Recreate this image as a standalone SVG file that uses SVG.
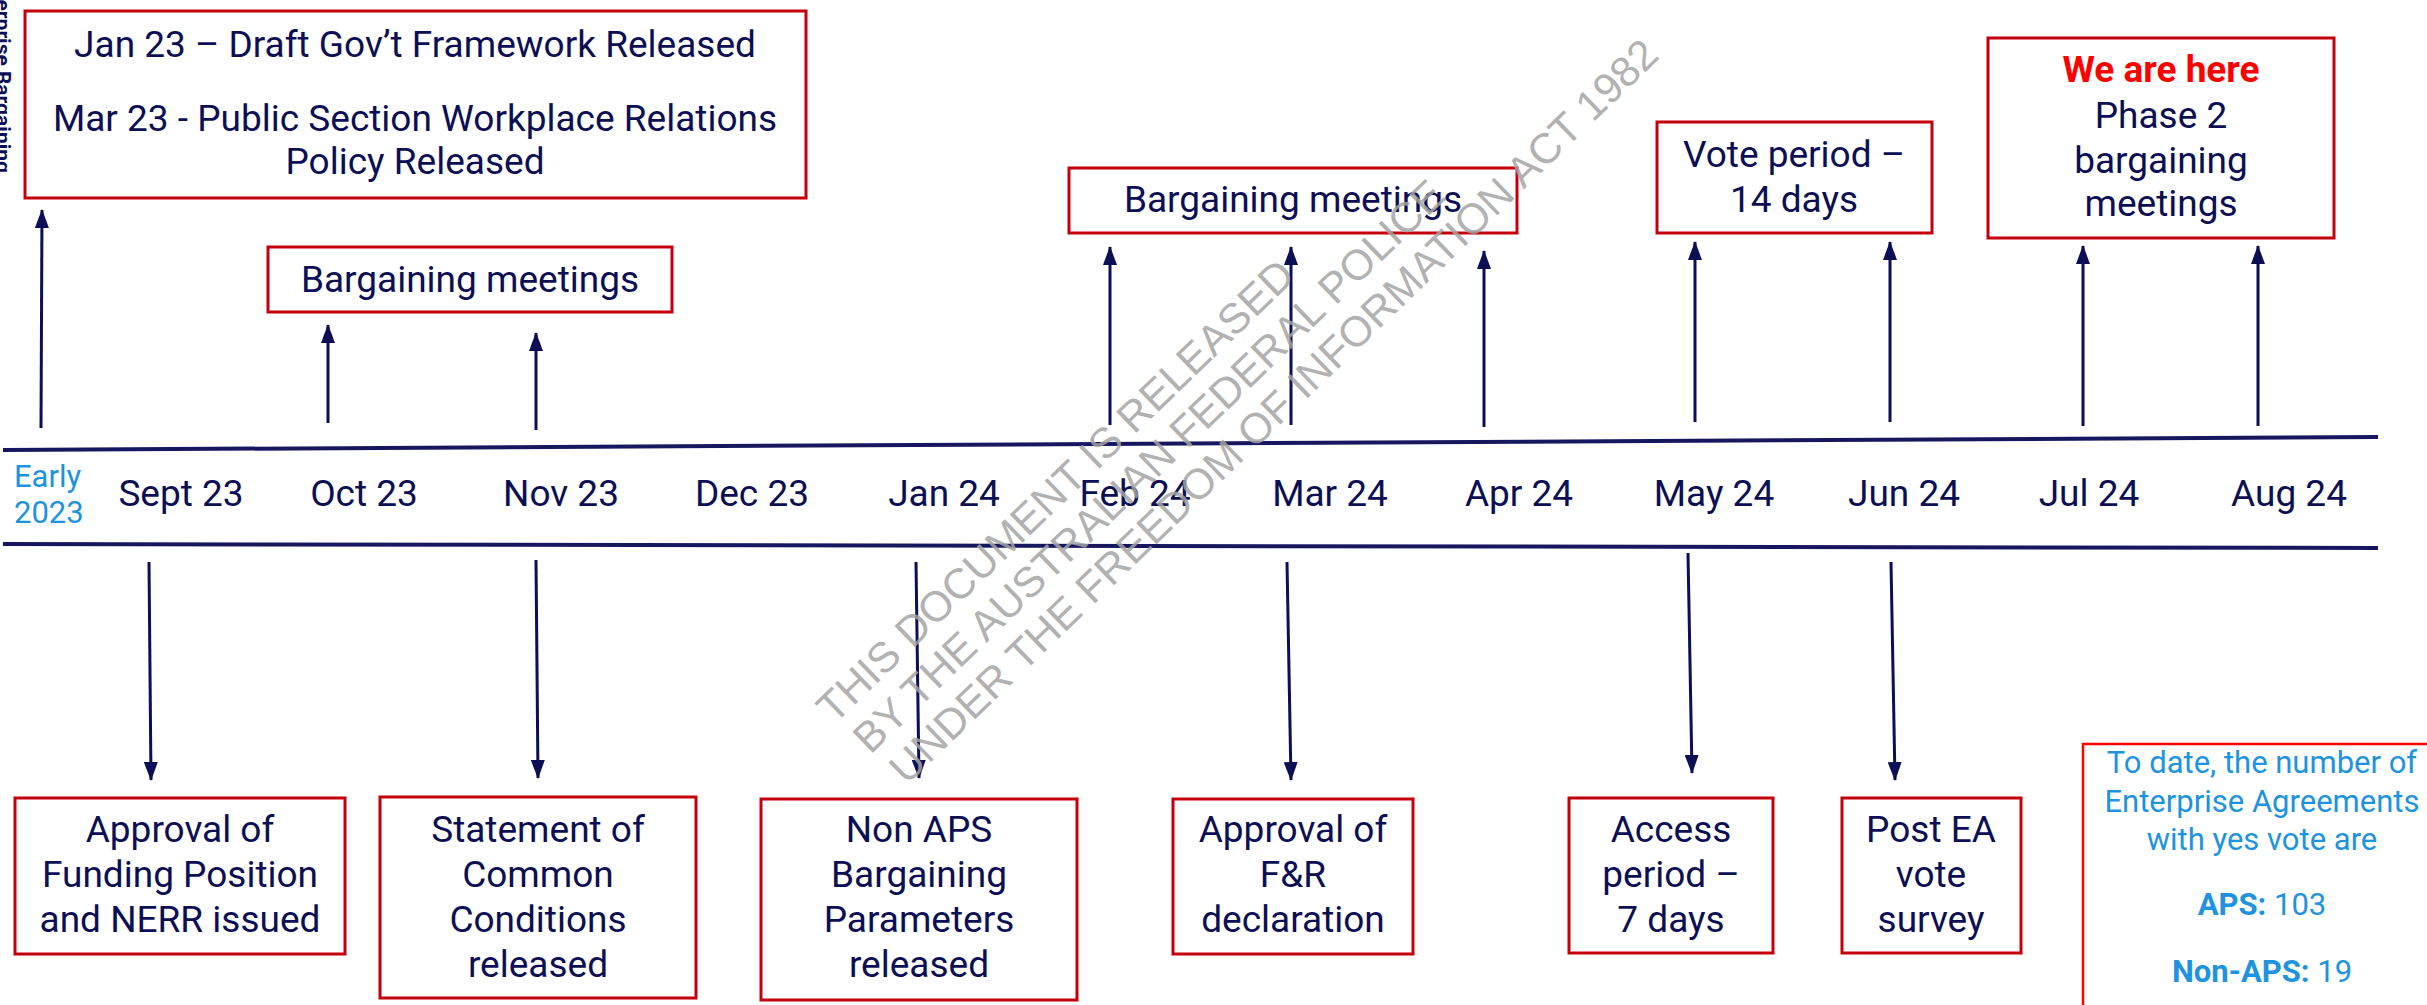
<svg xmlns="http://www.w3.org/2000/svg" width="2427" height="1005" viewBox="0 0 2427 1005">
<style>
  .bg { fill: #ffffff; }
  .box { fill: #ffffff; stroke: #C4000C; stroke-width: 3; }
  .info { fill: #ffffff; stroke: #FF0000; stroke-width: 2.5; }
  .t { font-family: Roboto, "Liberation Sans", sans-serif; font-size: 37px; fill: #0C0F55; text-anchor: middle; }
  .lbl { font-family: Roboto, "Liberation Sans", sans-serif; font-size: 37px; fill: #0C0F55; text-anchor: middle; }
  .early { font-family: Roboto, "Liberation Sans", sans-serif; font-size: 31px; fill: #1E93DF; }
  .it { font-family: Roboto, "Liberation Sans", sans-serif; font-size: 31px; fill: #1E93DF; text-anchor: middle; }
  .here { font-weight: bold; fill: #FF0000; }
  .b { font-weight: bold; }
  .axis { stroke: #17175F; stroke-width: 4; fill: none; }
  .arr { stroke: #0C0F55; stroke-width: 3; fill: none; marker-end: url(#head); }
  .wm { font-family: "Liberation Sans", Arial, sans-serif; font-size: 42.5px; fill: #A4A4A4; fill-opacity: 0.85; }
  .side { font-family: Roboto, "Liberation Sans", sans-serif; font-size: 21px; font-weight: bold; fill: #0C0F55; text-anchor: end; }
</style>
<defs>
  <marker id="head" markerUnits="userSpaceOnUse" viewBox="0 0 19 14" refX="18" refY="7" markerWidth="19" markerHeight="14" orient="auto">
    <path d="M0,0 L19,7 L0,14 z" fill="#0C0F55"/>
  </marker>
</defs>
<rect class="bg" x="0" y="0" width="2427" height="1005"/>

<g id="side-label">
  <text class="side" transform="translate(-4,173) rotate(90)" x="0" y="0">Enterprise Bargaining</text>
</g>

<g id="timeline">
  <line class="axis" x1="3" y1="450" x2="2378" y2="437"/>
  <line class="axis" x1="3" y1="544" x2="2378" y2="548"/>
  <text class="early" x="14" y="487">Early</text>
  <text class="early" x="14" y="523">2023</text>
  <text class="lbl" x="181" y="506">Sept 23</text>
  <text class="lbl" x="364" y="506">Oct 23</text>
  <text class="lbl" x="561" y="506">Nov 23</text>
  <text class="lbl" x="752" y="506">Dec 23</text>
  <text class="lbl" x="944" y="506">Jan 24</text>
  <text class="lbl" x="1135" y="506">Feb 24</text>
  <text class="lbl" x="1330" y="506">Mar 24</text>
  <text class="lbl" x="1519" y="506">Apr 24</text>
  <text class="lbl" x="1714" y="506">May 24</text>
  <text class="lbl" x="1904" y="506">Jun 24</text>
  <text class="lbl" x="2089" y="506">Jul 24</text>
  <text class="lbl" x="2289" y="506">Aug 24</text>
</g>

<g id="node-framework">
  <rect class="box" x="25" y="11" width="781" height="187"/>
  <text class="t" x="415" y="57">Jan 23 – Draft Gov’t Framework Released</text>
  <text class="t" x="415" y="131">Mar 23 - Public Section Workplace Relations</text>
  <text class="t" x="415" y="174">Policy Released</text>
</g>
<g id="node-bargaining-1">
  <rect class="box" x="268" y="247" width="404" height="65"/>
  <text class="t" x="470" y="292">Bargaining meetings</text>
</g>
<g id="node-bargaining-2">
  <rect class="box" x="1069" y="168" width="448" height="65"/>
  <text class="t" x="1293" y="212">Bargaining meetings</text>
</g>
<g id="node-vote">
  <rect class="box" x="1657" y="122" width="275" height="111"/>
  <text class="t" x="1794" y="167">Vote period –</text>
  <text class="t" x="1794" y="212">14 days</text>
</g>
<g id="node-phase2">
  <rect class="box" x="1988" y="38" width="346" height="200"/>
  <text class="t here" x="2161" y="82">We are here</text>
  <text class="t" x="2161" y="128">Phase 2</text>
  <text class="t" x="2161" y="173">bargaining</text>
  <text class="t" x="2161" y="216">meetings</text>
</g>

<g id="node-funding">
  <rect class="box" x="15" y="798" width="330" height="156"/>
  <text class="t" x="180" y="842">Approval of</text>
  <text class="t" x="180" y="887">Funding Position</text>
  <text class="t" x="180" y="932">and NERR issued</text>
</g>
<g id="node-statement">
  <rect class="box" x="380" y="797" width="316" height="201"/>
  <text class="t" x="538" y="842">Statement of</text>
  <text class="t" x="538" y="887">Common</text>
  <text class="t" x="538" y="932">Conditions</text>
  <text class="t" x="538" y="977">released</text>
</g>
<g id="node-nonaps">
  <rect class="box" x="761" y="799" width="316" height="201"/>
  <text class="t" x="919" y="842">Non APS</text>
  <text class="t" x="919" y="887">Bargaining</text>
  <text class="t" x="919" y="932">Parameters</text>
  <text class="t" x="919" y="977">released</text>
</g>
<g id="node-fr">
  <rect class="box" x="1173" y="799" width="240" height="155"/>
  <text class="t" x="1293" y="842">Approval of</text>
  <text class="t" x="1293" y="887">F&amp;R</text>
  <text class="t" x="1293" y="932">declaration</text>
</g>
<g id="node-access">
  <rect class="box" x="1569" y="798" width="204" height="155"/>
  <text class="t" x="1671" y="842">Access</text>
  <text class="t" x="1671" y="887">period –</text>
  <text class="t" x="1671" y="932">7 days</text>
</g>
<g id="node-survey">
  <rect class="box" x="1842" y="798" width="179" height="155"/>
  <text class="t" x="1931" y="842">Post EA</text>
  <text class="t" x="1931" y="887">vote</text>
  <text class="t" x="1931" y="932">survey</text>
</g>
<g id="node-info">
  <rect class="info" x="2083" y="744" width="360" height="275"/>
  <text class="it" x="2262" y="773">To date, the number of</text>
  <text class="it" x="2262" y="812">Enterprise Agreements</text>
  <text class="it" x="2262" y="850">with yes vote are</text>
  <text class="it" x="2262" y="915"><tspan class="b">APS:</tspan> 103</text>
  <text class="it" x="2262" y="982"><tspan class="b">Non-APS:</tspan> 19</text>
</g>

<g id="connectors">
  <line class="arr" x1="41" y1="428" x2="42" y2="210"/>
  <line class="arr" x1="328" y1="423" x2="328" y2="325"/>
  <line class="arr" x1="536" y1="430" x2="536" y2="333"/>
  <line class="arr" x1="1110" y1="425" x2="1110" y2="247"/>
  <line class="arr" x1="1291" y1="425" x2="1291" y2="247"/>
  <line class="arr" x1="1484" y1="427" x2="1484" y2="251"/>
  <line class="arr" x1="1695" y1="422" x2="1695" y2="242"/>
  <line class="arr" x1="1890" y1="422" x2="1890" y2="242"/>
  <line class="arr" x1="2083" y1="426" x2="2083" y2="246"/>
  <line class="arr" x1="2258" y1="426" x2="2258" y2="246"/>
  <line class="arr" x1="149" y1="562" x2="151" y2="780"/>
  <line class="arr" x1="536" y1="560" x2="538" y2="778"/>
  <line class="arr" x1="916" y1="562" x2="919" y2="778"/>
  <line class="arr" x1="1287" y1="562" x2="1291" y2="780"/>
  <line class="arr" x1="1688" y1="553" x2="1692" y2="773"/>
  <line class="arr" x1="1891" y1="562" x2="1895" y2="780"/>
</g>

<g id="watermark" transform="translate(834,725) rotate(-44)">
  <text class="wm" x="0" y="0">THIS DOCUMENT IS RELEASED</text>
  <text class="wm" x="5" y="47">BY THE AUSTRALIAN FEDERAL POLICE</text>
  <text class="wm" x="10" y="94">UNDER THE FREEDOM OF INFORMATION ACT 1982</text>
</g>
</svg>
